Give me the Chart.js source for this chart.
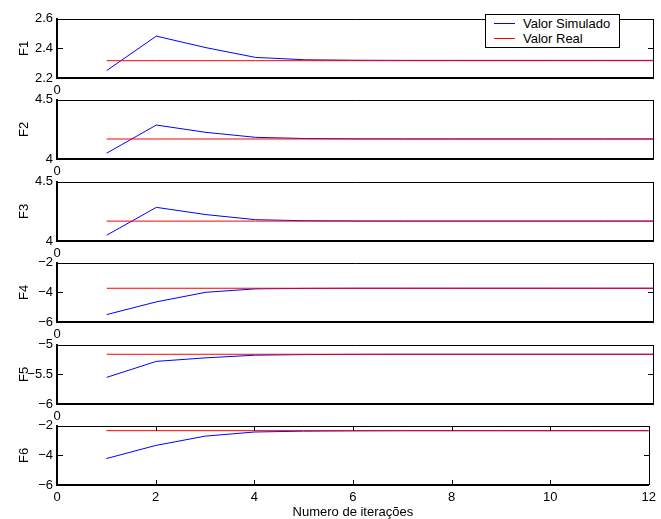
<!DOCTYPE html>
<html>
<head>
<meta charset="utf-8">
<script src="https://cdn.jsdelivr.net/npm/chart.js@4/dist/chart.umd.min.js"></script>
<style>
  body { margin: 0; background: #fff; width: 661px; height: 519px; position: relative; overflow: hidden;
         font-family: "Liberation Sans", Arial, sans-serif; }
  .panel { position: absolute; left: 0; }
  #legend { position: absolute; left: 485px; top: 14px; width: 133px; height: 32px; border: 1px solid #000;
            background: #fff; font-size: 13px; color: #000; }
  #legend .row { position: absolute; left: 0; height: 16px; line-height: 16px; white-space: nowrap; }
  #legend .sw { position: absolute; left: 8px; top: 7px; width: 21px; height: 0; border-top: 1px solid; }
  #legend .tx { position: absolute; left: 37px; top: 0; }
</style>
</head>
<body>
<div id="legend"></div>
<script>
    // ======== Data ========
    const iterations = [1, 2, 3, 4, 5, 6, 7, 8, 9, 10, 11, 12];
    const xTicks = [0, 2, 4, 6, 8, 10, 12];
    const seriesNames = ['Valor Simulado', 'Valor Real'];
    const panelLabels = ['F1', 'F2', 'F3', 'F4', 'F5', 'F6'];
    const xTitle = 'Numero de iterações';

    const f1Sim  = [2.250, 2.483, 2.405, 2.339, 2.323, 2.320, 2.319, 2.319, 2.319, 2.319, 2.319, 2.319];
    const f1Real = [2.317, 2.317, 2.317, 2.317, 2.317, 2.317, 2.317, 2.317, 2.317, 2.317, 2.317, 2.317];
    const f2Sim  = [4.049, 4.287, 4.225, 4.183, 4.173, 4.170, 4.169, 4.169, 4.169, 4.169, 4.169, 4.169];
    const f2Real = [4.169, 4.169, 4.169, 4.169, 4.169, 4.169, 4.169, 4.169, 4.169, 4.169, 4.169, 4.169];
    const f3Sim  = [4.049, 4.284, 4.223, 4.180, 4.171, 4.169, 4.168, 4.168, 4.168, 4.168, 4.168, 4.168];
    const f3Real = [4.168, 4.168, 4.168, 4.168, 4.168, 4.168, 4.168, 4.168, 4.168, 4.168, 4.168, 4.168];
    const f4Sim  = [-5.50, -4.64, -3.99, -3.76, -3.73, -3.72, -3.72, -3.72, -3.72, -3.72, -3.72, -3.72];
    const f4Real = [-3.72, -3.72, -3.72, -3.72, -3.72, -3.72, -3.72, -3.72, -3.72, -3.72, -3.72, -3.72];
    const f5Sim  = [-5.55, -5.28, -5.22, -5.175, -5.165, -5.162, -5.16, -5.16, -5.16, -5.16, -5.16, -5.16];
    const f5Real = [-5.16, -5.16, -5.16, -5.16, -5.16, -5.16, -5.16, -5.16, -5.16, -5.16, -5.16, -5.16];
    const f6Sim  = [-4.215, -3.33, -2.70, -2.42, -2.36, -2.34, -2.33, -2.33, -2.33, -2.33, -2.33, -2.33];
    const f6Real = [-2.33, -2.33, -2.33, -2.33, -2.33, -2.33, -2.33, -2.33, -2.33, -2.33, -2.33, -2.33];

    const f1Ticks = [2.2, 2.4, 2.6];
    const f2Ticks = [4, 4.5];
    const f3Ticks = [4, 4.5];
    const f4Ticks = [-6, -4, -2];
    const f5Ticks = [-6, -5.5, -5];
    const f6Ticks = [-6, -4, -2];

    const simSeries  = [f1Sim, f2Sim, f3Sim, f4Sim, f5Sim, f6Sim];
    const realSeries = [f1Real, f2Real, f3Real, f4Real, f5Real, f6Real];
    const yTickSets  = [f1Ticks, f2Ticks, f3Ticks, f4Ticks, f5Ticks, f6Ticks];

    // ======== Layout ========
    const panelTops = [17, 98, 180, 261, 343, 424];
    const panelH = 61;
    const padTop = 10;
    const axisLeft = 57;
    const padRight = 8;

    Chart.defaults.font.family = '"Liberation Sans", Arial, sans-serif';
    Chart.defaults.font.size = 13;
    Chart.defaults.color = '#000';

    const fmt = v => (v < 0 ? '\u2212' : '') + Math.abs(v);

    // frame on top/right and MATLAB-style inward ticks
    const framePlugin = {
      id: 'frame',
      afterDraw(chart) {
        const { ctx, chartArea: a, scales } = chart;
        const L = Math.round(a.left), R = Math.round(a.right), T = Math.round(a.top), B = Math.round(a.bottom);
        ctx.save();
        ctx.strokeStyle = '#000';
        ctx.lineWidth = 1;
        ctx.beginPath();
        ctx.moveTo(L, T + 0.5); ctx.lineTo(R + 0.5, T + 0.5);
        ctx.moveTo(R + 0.5, T); ctx.lineTo(R + 0.5, B);
        scales.y.ticks.forEach(t => {
          if (t.value <= scales.y.min || t.value >= scales.y.max) return;
          const y = Math.round(scales.y.getPixelForValue(t.value)) + 0.5;
          ctx.moveTo(L, y); ctx.lineTo(L + 6, y);
          ctx.moveTo(R, y); ctx.lineTo(R - 5, y);
        });
        scales.x.ticks.forEach(t => {
          if (t.value <= scales.x.min || t.value >= scales.x.max) return;
          const x = Math.round(scales.x.getPixelForValue(t.value)) + 0.5;
          ctx.moveTo(x, T); ctx.lineTo(x, T + 5);
          ctx.moveTo(x, B); ctx.lineTo(x, B - 5);
        });
        ctx.stroke();
        ctx.restore();
      }
    };

    const charts = [];
    panelLabels.forEach((label, i) => {
      const last = i === panelLabels.length - 1;
      const top = panelTops[i] - padTop;
      const height = last ? 520 - top : padTop + panelH + 22;
      const xAxisH = height - padTop - panelH;

      const wrap = document.createElement('div');
      wrap.className = 'panel';
      wrap.style.top = top + 'px';
      const canvas = document.createElement('canvas');
      canvas.width = 661; canvas.height = height;
      wrap.appendChild(canvas);
      document.body.insertBefore(wrap, document.getElementById('legend'));

      const yTicks = yTickSets[i];
      const xt = last ? xTicks : [0];

      const chart = new Chart(canvas.getContext('2d'), {
        type: 'line',
        data: {
          datasets: [
            {
              label: seriesNames[0],
              data: iterations.map((x, k) => ({ x, y: simSeries[i][k] })),
              borderColor: '#0000ff',
              borderWidth: 1,
              pointRadius: 0,
              tension: 0,
              order: 1
            },
            {
              label: seriesNames[1],
              data: iterations.map((x, k) => ({ x, y: realSeries[i][k] })),
              borderColor: '#ff0000',
              borderWidth: 1,
              pointRadius: 0,
              tension: 0,
              order: 0
            }
          ]
        },
        options: {
          responsive: false,
          animation: false,
          events: [],
          layout: { padding: { left: 0, right: padRight, top: padTop, bottom: 0 } },
          plugins: { legend: { display: false }, tooltip: { enabled: false } },
          scales: {
            x: {
              type: 'linear',
              min: 0, max: 12,
              afterBuildTicks: s => { s.ticks = xt.map(v => ({ value: v })); },
              afterFit: s => { s.height = xAxisH; },
              ticks: { autoSkip: false, maxRotation: 0, padding: 5, callback: fmt },
              grid: { display: false, drawTicks: false },
              border: { display: true, color: '#000', width: 2 },
              title: { display: last, text: xTitle, font: { size: 13 }, padding: { top: 0, bottom: 0 } }
            },
            y: {
              type: 'linear',
              min: yTicks[0], max: yTicks[yTicks.length - 1],
              afterBuildTicks: s => { s.ticks = yTicks.map(v => ({ value: v })); },
              afterFit: s => { s.width = axisLeft; },
              ticks: { autoSkip: false, padding: 4, callback: fmt },
              grid: { display: false, drawTicks: false },
              border: { display: true, color: '#000', width: 2 },
              title: { display: true, text: label, font: { size: 13 }, padding: { top: 17, bottom: 0 } }
            }
          }
        },
        plugins: [framePlugin]
      });
      charts.push(chart);
    });

    // ======== Legend (built from first panel's datasets) ========
    const legendEl = document.getElementById('legend');
    legendEl.innerHTML = charts[0].data.datasets.map((ds, k) => `
      <div class="row" style="top:${1 + k * 15}px">
        <span class="sw" style="border-color:${ds.borderColor}"></span>
        <span class="tx">${ds.label}</span>
      </div>`).join('');
</script>
</body>
</html>
